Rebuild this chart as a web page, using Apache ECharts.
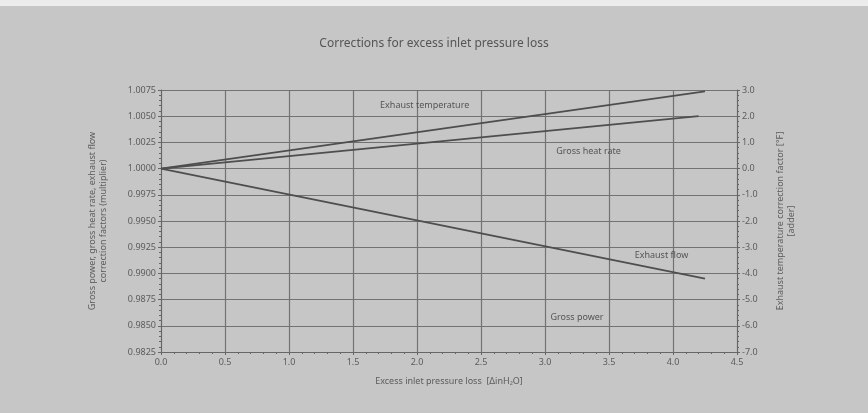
<!DOCTYPE html>
<html>
<head>
<meta charset="utf-8">
<script src="https://cdn.jsdelivr.net/npm/echarts@6/dist/echarts.min.js"></script>
<style>
  html, body { margin: 0; padding: 0; background: #c6c6c6; }
  #chart { width: 868px; height: 413px; }
</style>
</head>
<body>
<div id="chart"></div>
<script>
// Inlet pressure loss (in H2O) and correction curves
const exhaustTempX = [0.0, 4.25];
const exhaustTempF = [0.0, 2.95];        // adder, °F (right axis)
const heatRateX = [0.0, 4.2];
const heatRateMult = [1.0000, 1.0050];   // multiplier (left axis)
const exhaustFlowX = [0.0, 4.25];
const exhaustFlowMult = [1.0000, 0.9895]; // multiplier (left axis)

// Curve captions: [x, left-axis value, text]
const captions = [
  [2.06, 1.0060, 'Exhaust temperature'],
  [3.34, 1.00168, 'Gross heat rate'],
  [3.91, 0.99167, 'Exhaust flow'],
  [3.25, 0.98584, 'Gross power']
];

const titleText = 'Corrections for excess inlet pressure loss';
const xName = 'Excess inlet pressure loss  [ΔinH\u2082O]';
const yLeftName = 'Gross power, gross heat rate, exhaust flow\ncorrection factors (multiplier)';
const yRightName = 'Exhaust temperature correction factor [°F]\n[adder]';

const pair = (xs, ys) => xs.map((x, i) => [x, ys[i]]);

const FONT = 'Noto Sans';
const TXT = '#5c5c5c';
const AX = '#666';
const GRID = '#727272';

const chart = echarts.init(document.getElementById('chart'));

const lineStyle = { color: '#4e4e4e', width: 1.7 };

chart.setOption({
  backgroundColor: '#c6c6c6',
  animation: false,
  textStyle: { fontFamily: FONT },
  title: {
    text: titleText,
    left: 'center',
    top: 33,
    textStyle: { fontFamily: FONT, fontSize: 12, fontWeight: 'normal', color: '#555' }
  },
  grid: { left: 161, right: 131, top: 90, bottom: 61 },
  xAxis: {
    type: 'value',
    min: 0, max: 4.5, interval: 0.5,
    name: xName,
    nameLocation: 'middle',
    nameGap: 25,
    nameTextStyle: { fontSize: 9, color: TXT, fontFamily: FONT },
    axisLine: { show: true, onZero: false, lineStyle: { color: AX, width: 1 } },
    axisTick: { show: true, length: 3, lineStyle: { color: AX } },
    minorTick: { show: true, splitNumber: 5, length: 2, lineStyle: { color: AX } },
    axisLabel: { fontSize: 9, color: TXT, margin: 6, formatter: v => v.toFixed(1) },
    splitLine: { show: true, lineStyle: { color: GRID, width: 1.2 } }
  },
  yAxis: [
    {
      type: 'value',
      position: 'left',
      min: 0.9825, max: 1.0075, interval: 0.0025,
      name: yLeftName,
      nameLocation: 'middle',
      nameRotate: 90,
      nameGap: 52,
      nameTextStyle: { fontSize: 9, color: TXT, fontFamily: FONT, lineHeight: 11 },
      axisLine: { show: true, onZero: false, lineStyle: { color: AX, width: 1 } },
      axisTick: { show: true, length: 3, lineStyle: { color: AX } },
      minorTick: { show: true, splitNumber: 5, length: 2, lineStyle: { color: AX } },
      axisLabel: { fontSize: 9, color: TXT, margin: 5, formatter: v => v.toFixed(4) },
      splitLine: { show: true, lineStyle: { color: GRID, width: 1.2 } }
    },
    {
      type: 'value',
      position: 'right',
      min: -7, max: 3, interval: 1,
      name: yRightName,
      nameLocation: 'middle',
      nameRotate: 90,
      nameGap: 38,
      nameTextStyle: { fontSize: 9, color: TXT, fontFamily: FONT, lineHeight: 11 },
      axisLine: { show: true, onZero: false, lineStyle: { color: AX, width: 1 } },
      axisTick: { show: true, length: 3, lineStyle: { color: AX } },
      minorTick: { show: true, splitNumber: 5, length: 2, lineStyle: { color: AX } },
      axisLabel: { fontSize: 9, color: TXT, margin: 5, formatter: v => v.toFixed(1) },
      splitLine: { show: false }
    }
  ],
  series: [
    {
      name: 'Exhaust temperature',
      type: 'line',
      yAxisIndex: 1,
      data: pair(exhaustTempX, exhaustTempF),
      symbol: 'none',
      lineStyle: lineStyle
    },
    {
      name: 'Gross heat rate',
      type: 'line',
      yAxisIndex: 0,
      data: pair(heatRateX, heatRateMult),
      symbol: 'none',
      lineStyle: lineStyle
    },
    {
      name: 'Exhaust flow',
      type: 'line',
      yAxisIndex: 0,
      data: pair(exhaustFlowX, exhaustFlowMult),
      symbol: 'none',
      lineStyle: lineStyle
    }
  ]
});

// Curve captions placed in data coordinates
const graphics = captions.map(([x, y, t]) => {
  const p = chart.convertToPixel({ xAxisIndex: 0, yAxisIndex: 0 }, [x, y]);
  return {
    type: 'text',
    x: p[0], y: p[1],
    style: {
      text: t, fontSize: 9, fontFamily: FONT, fill: '#555',
      align: 'center', verticalAlign: 'middle'
    },
    z: 10
  };
});
// Light strip along the top edge of the sheet
graphics.push({
  type: 'rect',
  shape: { x: 0, y: 0, width: 868, height: 6 },
  style: { fill: '#ececec' },
  z: 0
});
chart.setOption({ graphic: graphics });
</script>
</body>
</html>
